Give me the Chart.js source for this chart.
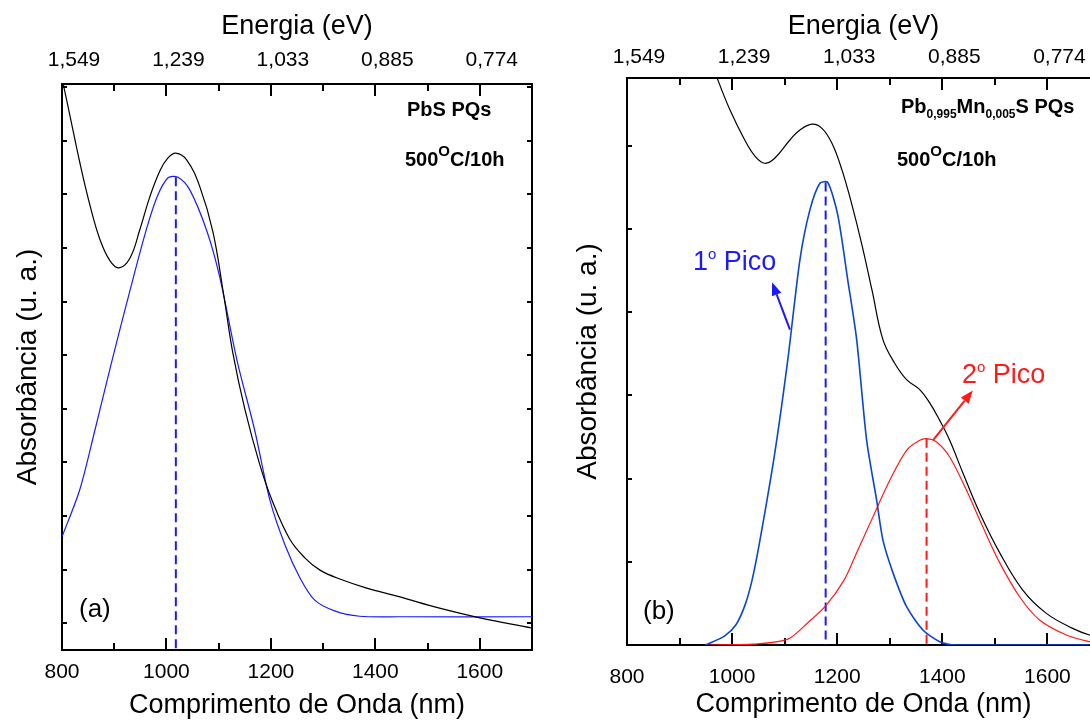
<!DOCTYPE html>
<html lang="pt">
<head>
  <meta charset="UTF-8" />
  <title>Absorbância PbS / Pb0,995Mn0,005S PQs</title>
  <script src="https://cdn.jsdelivr.net/npm/chart.js"></script>
  <style>
    * { margin: 0; padding: 0; box-sizing: border-box; }
    body {
      width: 1090px;
      height: 724px;
      overflow: hidden;
      background: white;
      position: relative;
    }
    canvas { position: absolute; top: 0; }
    #chartA { left: 0; }
    #chartB { left: 545px; }
  </style>
</head>
<body>
  <canvas id="chartA" width="545" height="724"></canvas>
  <canvas id="chartB" width="560" height="724"></canvas>

  <script>
    // axis ticks
    const waveTicks = [800, 1000, 1200, 1400, 1600];
    const waveMinor = [900, 1100, 1300, 1500];
    const energyLabels = ['1,549', '1,239', '1,033', '0,885', '0,774'];
    const aYTicks = [0.5, 1.5, 2.5, 3.5, 4.5, 5.5, 6.5, 7.5, 8.5, 9.5, 10.5];
    const bYTicks = [1, 2, 3, 4, 5, 6];

    // (a) PbS PQs - measured spectrum
    const aWave = [801, 815, 834, 854, 873, 892, 909, 930, 949, 968, 988, 1003, 1018, 1039, 1064, 1089, 1110, 1127, 1150, 1179, 1202, 1236, 1265, 1294, 1336, 1382, 1447, 1523, 1600, 1700];
    const aAbs  = [10.62, 9.98, 9.10, 8.28, 7.65, 7.26, 7.13, 7.31, 7.84, 8.45, 8.95, 9.18, 9.27, 9.14, 8.64, 7.80, 6.60, 5.55, 4.50, 3.45, 2.80, 2.07, 1.72, 1.49, 1.31, 1.16, 0.99, 0.78, 0.60, 0.41];
    // (a) gaussian fit
    const aFitWave = [800, 834, 863, 896, 930, 959, 982, 1003, 1022, 1045, 1078, 1102, 1135, 1169, 1198, 1227, 1256, 1284, 1322, 1370, 1447, 1700];
    const aFitAbs  = [2.11, 2.99, 4.10, 5.41, 6.70, 7.76, 8.45, 8.81, 8.82, 8.58, 7.80, 6.96, 5.41, 4.10, 2.80, 1.96, 1.34, 0.93, 0.73, 0.63, 0.62, 0.62];
    const aPeak = 1018;

    // (b) Pb0,995Mn0,005S PQs - measured spectrum
    const bWave = [965, 973, 996, 1024, 1043, 1062, 1081, 1110, 1129, 1152, 1171, 1190, 1209, 1228, 1247, 1266, 1287, 1309, 1332, 1357, 1376, 1395, 1414, 1439, 1471, 1509, 1553, 1598, 1648, 1680, 1700];
    const bAbs  = [6.95, 6.79, 6.43, 6.07, 5.88, 5.79, 5.85, 6.07, 6.19, 6.26, 6.21, 6.03, 5.71, 5.29, 4.81, 4.27, 3.67, 3.39, 3.19, 3.07, 2.91, 2.70, 2.46, 2.07, 1.59, 1.11, 0.66, 0.38, 0.20, 0.12, 0.10];
    // (b) 1o pico
    const b1Wave = [950, 986, 1007, 1024, 1038, 1053, 1081, 1106, 1129, 1148, 1167, 1182, 1201, 1220, 1237, 1256, 1275, 1287, 1306, 1332, 1363, 1395, 1427, 1700];
    const b1Abs  = [0, 0.11, 0.24, 0.47, 0.78, 1.26, 2.30, 3.43, 4.63, 5.23, 5.55, 5.56, 5.17, 4.39, 3.67, 2.46, 1.74, 1.26, 0.87, 0.46, 0.18, 0.04, 0, 0];
    const b1Peak = 1178;
    // (b) 2o pico
    const b2Wave = [950, 1040, 1106, 1146, 1178, 1213, 1237, 1268, 1300, 1332, 1357, 1370, 1389, 1414, 1446, 1477, 1509, 1547, 1585, 1636, 1680, 1700];
    const b2Abs  = [0, 0.01, 0.07, 0.28, 0.47, 0.78, 1.11, 1.54, 1.98, 2.34, 2.46, 2.48, 2.44, 2.26, 1.86, 1.42, 0.99, 0.58, 0.30, 0.12, 0.04, 0.02];
    const b2Peak = 1370;

    const FONT = "'Liberation Sans', Arial, sans-serif";
    Chart.defaults.font.family = FONT;
    Chart.defaults.color = '#000';

    const pts = (xs, ys) => xs.map((v, i) => ({ x: v, y: ys[i] }));
    const setTicks = vals => s => { s.ticks = vals.map(v => ({ value: v })); };

    function curve(data, color, width, tension) {
      return { data, borderColor: color, borderWidth: width, pointRadius: 0, fill: false, tension };
    }
    function dashed(x, top, color) {
      return { data: [{ x, y: top }, { x, y: 0 }], borderColor: color, borderWidth: 2,
               borderDash: [9, 5], pointRadius: 0, fill: false };
    }

    // draws one run of text pieces: [text, size, dy, bold]
    function richText(ctx, x, y, parts, color) {
      ctx.fillStyle = color;
      ctx.textBaseline = 'alphabetic';
      ctx.textAlign = 'left';
      for (const [t, size, dy, bold] of parts) {
        ctx.font = (bold ? 'bold ' : '') + size + 'px ' + FONT;
        ctx.fillText(t, x, y + dy);
        x += ctx.measureText(t).width;
      }
    }

    function arrow(ctx, x1, y1, x2, y2, color) {
      const ang = Math.atan2(y2 - y1, x2 - x1);
      const len = 13, hw = 5;
      ctx.strokeStyle = color; ctx.fillStyle = color; ctx.lineWidth = 2;
      ctx.beginPath();
      ctx.moveTo(x1, y1);
      ctx.lineTo(x2 - len * Math.cos(ang), y2 - len * Math.sin(ang));
      ctx.stroke();
      ctx.beginPath();
      ctx.moveTo(x2, y2);
      ctx.lineTo(x2 - len * Math.cos(ang) + hw * Math.sin(ang), y2 - len * Math.sin(ang) - hw * Math.cos(ang));
      ctx.lineTo(x2 - len * Math.cos(ang) - hw * Math.sin(ang), y2 - len * Math.sin(ang) + hw * Math.cos(ang));
      ctx.closePath();
      ctx.fill();
    }

    // frame + inward ticks, then labels and arrows
    const decor = {
      id: 'decor',
      beforeDatasetsDraw(chart, args, o) {
        const { ctx, chartArea: a, scales: { x, y } } = chart;
        ctx.save();
        ctx.strokeStyle = '#000';
        ctx.lineWidth = 2;
        ctx.beginPath();
        const vtick = (v, len) => {
          const px = Math.round(x.getPixelForValue(v));
          if (px > a.right) return;
          ctx.moveTo(px, a.bottom); ctx.lineTo(px, a.bottom - len);
          ctx.moveTo(px, a.top); ctx.lineTo(px, a.top + len);
        };
        waveTicks.forEach(v => vtick(v, 12));
        waveMinor.forEach(v => vtick(v, 7));
        o.yTicks.forEach(v => {
          const py = Math.round(y.getPixelForValue(v));
          ctx.moveTo(a.left, py); ctx.lineTo(a.left + 5, py);
          ctx.moveTo(a.right, py); ctx.lineTo(a.right - 5, py);
        });
        ctx.stroke();
        ctx.strokeRect(a.left, a.top, a.right - a.left, a.bottom - a.top);
        ctx.restore();
      },
      afterDatasetsDraw(chart, args, o) {
        const { ctx, chartArea: a, scales: { x, y } } = chart;
        ctx.save();
        for (const t of o.texts) richText(ctx, a.left + t.dx, a.top + t.dy, t.parts, t.color || '#000');
        for (const ar of o.arrows) {
          arrow(ctx, x.getPixelForValue(ar.from[0]), y.getPixelForValue(ar.from[1]),
                     x.getPixelForValue(ar.to[0]), y.getPixelForValue(ar.to[1]), ar.color);
        }
        ctx.restore();
      }
    };

    function scalesFor(s) {
      return {
        x: {
          type: 'linear', position: 'bottom', min: 800, max: 1700,
          afterBuildTicks: setTicks(waveTicks),
          ticks: { font: { size: 21 }, padding: s.xPad, maxRotation: 0, autoSkip: false,
                   callback: v => String(v) },
          grid: { display: false, drawTicks: false },
          border: { display: false },
          title: { display: true, text: 'Comprimento de Onda (nm)', font: { size: 27 }, padding: { top: 0, bottom: s.xTitlePad } },
          afterFit: sc => { sc.height = s.xHeight; }
        },
        x2: {
          type: 'linear', position: 'top', min: 800, max: 1700,
          afterBuildTicks: setTicks(waveTicks),
          ticks: { font: { size: 21 }, padding: s.topPad, labelOffset: 12, maxRotation: 0, autoSkip: false,
                   callback: v => energyLabels[waveTicks.indexOf(v)] },
          grid: { display: false, drawTicks: false },
          border: { display: false },
          title: { display: true, text: 'Energia (eV)', font: { size: 27 }, padding: { top: 10, bottom: 0 } },
          afterFit: sc => { sc.height = s.topHeight; }
        },
        y: {
          type: 'linear', position: 'left', min: 0, max: s.yMax,
          afterBuildTicks: setTicks(s.yTicks),
          ticks: { display: false },
          grid: { display: false, drawTicks: false },
          border: { display: false },
          title: { display: true, text: 'Absorbância (u. a.)', font: { size: 28 }, padding: { top: s.yTitlePad, bottom: 0 } },
          afterFit: sc => { sc.width = s.yWidth; }
        }
      };
    }

    const degC = size => [['500', size, 0, true], ['O', 15, -10, true], ['C/10h', size, 0, true]];
    const pico = n => [[n, 27, 0, false], ['o', 15, -11, false], [' Pico', 27, 0, false]];

    new Chart(document.getElementById('chartA'), {
      type: 'line',
      data: {
        datasets: [
          curve(pts(aWave, aAbs), '#000000', 1.2, 0.4),
          curve(pts(aFitWave, aFitAbs), '#1a1aff', 1.2, 0.3),
          dashed(aPeak, aFitAbs[aFitWave.indexOf(1022)], '#1a1aff')
        ]
      },
      options: {
        responsive: false,
        animation: false,
        events: [],
        layout: { padding: { left: 0, right: 13, top: 0, bottom: 0 } },
        plugins: {
          legend: { display: false }, tooltip: { enabled: false },
          decor: {
            yTicks: aYTicks,
            texts: [
              { dx: 345, dy: 32, parts: [['PbS PQs', 20, 0, true]] },
              { dx: 343, dy: 82, parts: degC(20) },
              { dx: 17, dy: 533, parts: [['(a)', 26, 0, false]] }
            ],
            arrows: []
          }
        },
        scales: scalesFor({ xPad: 9.4, xTitlePad: 1.8, xHeight: 74, topPad: 11.4, topHeight: 84,
                            yMax: 10.56, yTicks: aYTicks, yTitlePad: 11, yWidth: 62 })
      },
      plugins: [decor]
    });

    new Chart(document.getElementById('chartB'), {
      type: 'line',
      data: {
        datasets: [
          curve(pts(bWave, bAbs), '#000000', 1.2, 0.4),
          curve(pts(b1Wave, b1Abs), '#0a46d2', 1.6, 0.25),
          curve(pts(b2Wave, b2Abs), '#ff1a1a', 1.2, 0.3),
          dashed(b1Peak, b1Abs[b1Wave.indexOf(1182)], '#1a1aff'),
          dashed(b2Peak, b2Abs[b2Wave.indexOf(b2Peak)], '#ff1a1a')
        ]
      },
      options: {
        responsive: false,
        animation: false,
        events: [],
        layout: { padding: { left: 0, right: 5, top: 0, bottom: 0 } },
        plugins: {
          legend: { display: false }, tooltip: { enabled: false },
          decor: {
            yTicks: bYTicks,
            texts: [
              { dx: 274, dy: 35, parts: [['Pb', 20, 0, true], ['0,995', 12, 5, true], ['Mn', 20, 0, true], ['0,005', 12, 5, true], ['S PQs', 20, 0, true]] },
              { dx: 270, dy: 88, parts: degC(20) },
              { dx: 16, dy: 541, parts: [['(b)', 26, 0, false]] },
              { dx: 66, dy: 192, color: '#1a1aff', parts: pico('1') },
              { dx: 335, dy: 305, color: '#ff1a1a', parts: pico('2') }
            ],
            arrows: [
              { from: [1110, 3.79], to: [1076, 4.36], color: '#1a1aff' },
              { from: [1382, 2.46], to: [1458, 3.06], color: '#ff1a1a' }
            ]
          }
        },
        scales: scalesFor({ xPad: 19.4, xTitlePad: 2.8, xHeight: 79, topPad: 8.4, topHeight: 78,
                            yMax: 6.815, yTicks: bYTicks, yTitlePad: 26, yWidth: 82 })
      },
      plugins: [decor]
    });
  </script>
</body>
</html>
